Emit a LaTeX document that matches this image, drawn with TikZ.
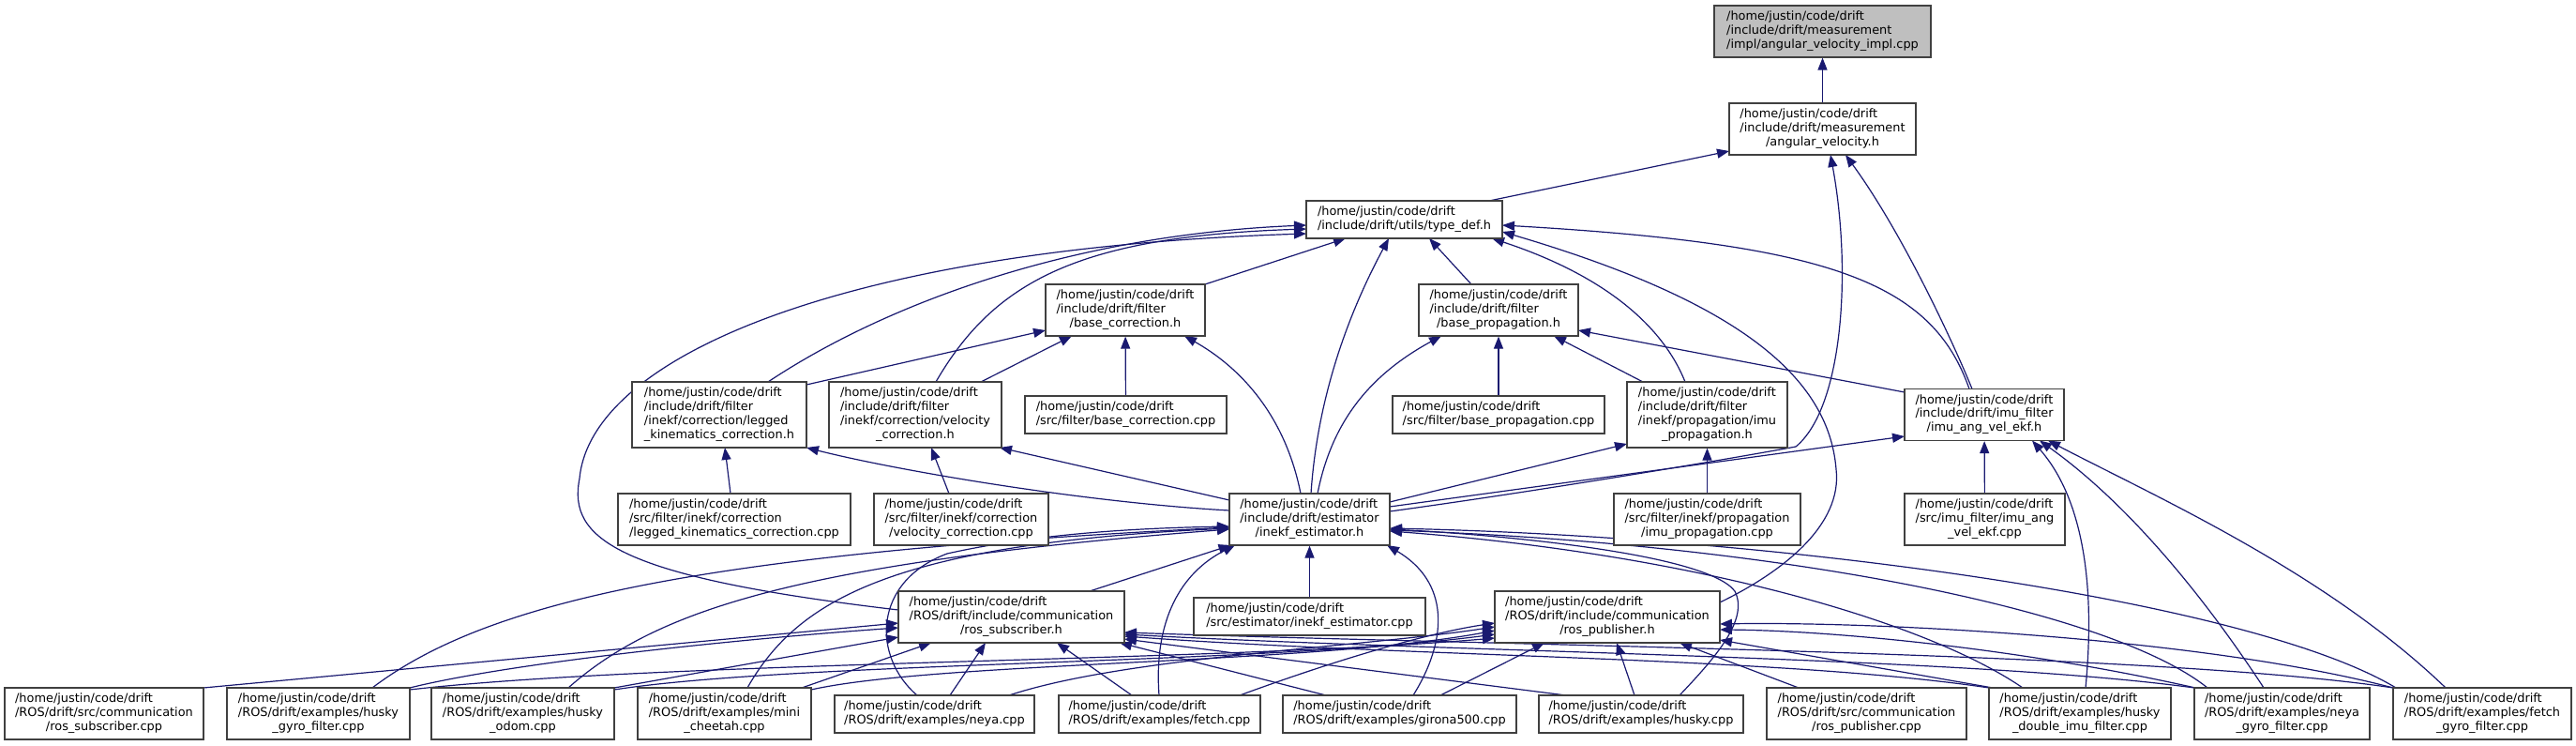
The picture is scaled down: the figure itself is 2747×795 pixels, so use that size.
\documentclass[tikz,border=0pt]{standalone}
\usepackage{fontspec}
\setmainfont{DejaVu Sans}
\usetikzlibrary{arrows.meta,calc}
\pgfdeclarelayer{bg}\pgfdeclarelayer{edges}\pgfsetlayers{bg,edges,main}
\definecolor{edgecol}{RGB}{25,25,112}
\definecolor{boxcol}{RGB}{64,64,64}
\definecolor{rootfill}{RGB}{191,191,191}
\newcommand\nfont{\fontsize{12.9}{14.8}\selectfont}
\newcommand\hd{/home/justin/code/drift}
\newcommand\labII[2]{\begin{tabular}{@{}l@{}}#1\\\multicolumn{1}{@{}c@{}}{#2}\end{tabular}}
\newcommand\labIII[3]{\begin{tabular}{@{}l@{}}#1\\#2\\\multicolumn{1}{@{}c@{}}{#3}\end{tabular}}
\newcommand\labIV[4]{\begin{tabular}{@{}l@{}}#1\\#2\\#3\\\multicolumn{1}{@{}c@{}}{#4}\end{tabular}}
\tikzset{
  box/.style={draw=boxcol, line width=1.2pt, fill=white, inner sep=0pt, font=\nfont},
  rootbox/.style={box, fill=rootfill},
  dep/.style={draw=edgecol, line width=1.2pt, -{Triangle[length=13pt,width=10pt]}}
}
\begin{document}
\begin{tikzpicture}[x=1pt,y=-1pt]
\useasboundingbox (0,0) rectangle (2747,795);
\begin{pgfonlayer}{bg}\fill[white] (0,0) rectangle (2747,795);\end{pgfonlayer}
% ---- nodes
\node[rootbox, minimum width=231pt, minimum height=55pt] (impl) at (1943.5,33.5) {\labIII{\hd}{/include/drift/measurement}{/impl/angular\_velocity\_impl.cpp}};
\node[box, minimum width=199pt, minimum height=55pt] (angvel) at (1943.5,137.5) {\labIII{\hd}{/include/drift/measurement}{/angular\_velocity.h}};
\node[box, minimum width=209pt, minimum height=40pt] (typedef) at (1497.5,234) {\labII{\hd}{/include/drift/utils/type\_def.h}};
\node[box, minimum width=170pt, minimum height=55pt] (basecorr_h) at (1200,330.5) {\labIII{\hd}{/include/drift/filter}{/base\_correction.h}};
\node[box, minimum width=170pt, minimum height=55pt] (baseprop_h) at (1598,330.5) {\labIII{\hd}{/include/drift/filter}{/base\_propagation.h}};
\node[box, minimum width=186pt, minimum height=70pt] (legged_h) at (767,442) {\labIV{\hd}{/include/drift/filter}{/inekf/correction/legged}{\_kinematics\_correction.h}};
\node[box, minimum width=184pt, minimum height=70pt] (velocity_h) at (976,442) {\labIV{\hd}{/include/drift/filter}{/inekf/correction/velocity}{\_correction.h}};
\node[box, minimum width=215pt, minimum height=40pt] (basecorr_cpp) at (1200.5,442) {\labII{\hd}{/src/filter/base\_correction.cpp}};
\node[box, minimum width=226pt, minimum height=40pt] (baseprop_cpp) at (1598,442) {\labII{\hd}{/src/filter/base\_propagation.cpp}};
\node[box, minimum width=171pt, minimum height=70pt] (imuprop_h) at (1820.5,442) {\labIV{\hd}{/include/drift/filter}{/inekf/propagation/imu}{\_propagation.h}};
\node[box, minimum width=170pt, minimum height=55pt] (imuekf_h) at (2116,442) {\labIII{\hd}{/include/drift/imu\_filter}{/imu\_ang\_vel\_ekf.h}};
\node[box, minimum width=248pt, minimum height=55pt] (legged_cpp) at (783,553.5) {\labIII{\hd}{/src/filter/inekf/correction}{/legged\_kinematics\_correction.cpp}};
\node[box, minimum width=186pt, minimum height=55pt] (velocity_cpp) at (1025,553.5) {\labIII{\hd}{/src/filter/inekf/correction}{/velocity\_correction.cpp}};
\node[box, minimum width=171pt, minimum height=55pt] (inekf_h) at (1396.5,553.5) {\labIII{\hd}{/include/drift/estimator}{/inekf\_estimator.h}};
\node[box, minimum width=199pt, minimum height=55pt] (imuprop_cpp) at (1820.5,553.5) {\labIII{\hd}{/src/filter/inekf/propagation}{/imu\_propagation.cpp}};
\node[box, minimum width=171pt, minimum height=55pt] (imuekf_cpp) at (2116.5,553.5) {\labIII{\hd}{/src/imu\_filter/imu\_ang}{\_vel\_ekf.cpp}};
\node[box, minimum width=241pt, minimum height=55pt] (rossub_h) at (1078.5,657.5) {\labIII{\hd}{/ROS/drift/include/communication}{/ros\_subscriber.h}};
\node[box, minimum width=247pt, minimum height=40pt] (inekf_cpp) at (1396.5,657) {\labII{\hd}{/src/estimator/inekf\_estimator.cpp}};
\node[box, minimum width=240pt, minimum height=55pt] (rospub_h) at (1714,657.5) {\labIII{\hd}{/ROS/drift/include/communication}{/ros\_publisher.h}};
\node[box, minimum width=212pt, minimum height=55pt] (rossub_cpp) at (111,760.5) {\labIII{\hd}{/ROS/drift/src/communication}{/ros\_subscriber.cpp}};
\node[box, minimum width=195pt, minimum height=55pt] (huskygyro) at (339.5,760.5) {\labIII{\hd}{/ROS/drift/examples/husky}{\_gyro\_filter.cpp}};
\node[box, minimum width=195pt, minimum height=55pt] (huskyodom) at (557.5,760.5) {\labIII{\hd}{/ROS/drift/examples/husky}{\_odom.cpp}};
\node[box, minimum width=185pt, minimum height=55pt] (minicheetah) at (772.5,760.5) {\labIII{\hd}{/ROS/drift/examples/mini}{\_cheetah.cpp}};
\node[box, minimum width=213pt, minimum height=40pt] (neya) at (996.5,761) {\labII{\hd}{/ROS/drift/examples/neya.cpp}};
\node[box, minimum width=215pt, minimum height=40pt] (fetch) at (1236.5,761) {\labII{\hd}{/ROS/drift/examples/fetch.cpp}};
\node[box, minimum width=249pt, minimum height=40pt] (girona) at (1492.5,761) {\labII{\hd}{/ROS/drift/examples/girona500.cpp}};
\node[box, minimum width=218pt, minimum height=40pt] (husky) at (1750,761) {\labII{\hd}{/ROS/drift/examples/husky.cpp}};
\node[box, minimum width=213pt, minimum height=55pt] (rospub_cpp) at (1990.5,760.5) {\labIII{\hd}{/ROS/drift/src/communication}{/ros\_publisher.cpp}};
\node[box, minimum width=194pt, minimum height=55pt] (huskydouble) at (2218,760.5) {\labIII{\hd}{/ROS/drift/examples/husky}{\_double\_imu\_filter.cpp}};
\node[box, minimum width=187pt, minimum height=55pt] (neyagyro) at (2433.5,760.5) {\labIII{\hd}{/ROS/drift/examples/neya}{\_gyro\_filter.cpp}};
\node[box, minimum width=190pt, minimum height=55pt] (fetchgyro) at (2647,760.5) {\labIII{\hd}{/ROS/drift/examples/fetch}{\_gyro\_filter.cpp}};
% ---- edges
\begin{pgfonlayer}{edges}
\draw[dep] (angvel) -- (impl);
\draw[dep] ($(typedef.center)+(90.5,-20)$) -- ($(angvel.center)+(-99.5,23.5)$);
\draw[dep] ($(inekf_h.center)+(85.5,-8.5)$) .. controls (1650,522) and (1850,488) .. (1915,476) .. controls (1965,435) and (1975,290) .. ($(angvel.center)+(8.5,27.5)$);
\draw[dep] ($(imuekf_h.center)+(-13,-27.5)$) .. controls (2085,370) and (2030,250) .. ($(angvel.center)+(24.5,27.5)$);
\draw[dep] ($(basecorr_h.center)+(85,-27.5)$) -- ($(typedef.center)+(-62.5,20)$);
\draw[dep] ($(legged_h.center)+(52,-35)$) .. controls (950,320) and (1150,250) .. ($(typedef.center)+(-104.5,6)$);
\draw[dep] ($(velocity_h.center)+(22,-35)$) .. controls (1060,300) and (1150,252) .. ($(typedef.center)+(-104.5,10)$);
\draw[dep] ($(rossub_h.center)+(-120.5,-7.5)$) .. controls (660,615) and (605,575) .. (618,510) .. controls (630,380) and (900,265) .. ($(typedef.center)+(-104.5,15)$);
\draw[dep] ($(inekf_h.center)+(1.5,-27.5)$) .. controls (1405,420) and (1440,330) .. ($(typedef.center)+(-16.5,20)$);
\draw[dep] ($(inekf_h.center)+(-9.5,-27.5)$) .. controls (1370,440) and (1320,390) .. ($(basecorr_h.center)+(63,27.5)$);
\draw[dep] ($(inekf_h.center)+(8.5,-27.5)$) .. controls (1420,450) and (1460,400) .. ($(baseprop_h.center)+(-61,27.5)$);
\draw[dep] ($(baseprop_h.center)+(-29,-27.5)$) -- ($(typedef.center)+(26.5,20)$);
\draw[dep] ($(imuprop_h.center)+(-23.5,-35)$) .. controls (1770,340) and (1700,290) .. ($(typedef.center)+(93.5,20)$);
\draw[dep] ($(rospub_h.center)+(120,-15.5)$) .. controls (1900,610) and (1965,560) .. (1958,500) .. controls (1950,400) and (1850,320) .. ($(typedef.center)+(104.5,13)$);
\draw[dep] ($(imuekf_h.center)+(-16,-27.5)$) .. controls (2060,300) and (1950,260) .. ($(typedef.center)+(104.5,6)$);
\draw[dep] ($(legged_h.center)+(93,-32)$) -- ($(basecorr_h.center)+(-85,21.5)$);
\draw[dep] ($(velocity_h.center)+(70,-35)$) -- ($(basecorr_h.center)+(-57,27.5)$);
\draw[dep] (basecorr_cpp) -- (basecorr_h);
\draw[dep] ($(legged_cpp.center)+(-4,-27.5)$) -- ($(legged_h.center)+(6,35)$);
\draw[dep] ($(velocity_cpp.center)+(-13,-27.5)$) -- ($(velocity_h.center)+(17,35)$);
\draw[dep] ($(inekf_h.center)+(-85.5,-9.5)$) .. controls (1150,535) and (950,500) .. ($(legged_h.center)+(93,35)$);
\draw[dep] ($(inekf_h.center)+(-85.5,-20.5)$) -- ($(velocity_h.center)+(90,35)$);
\draw[dep] (baseprop_cpp) -- (baseprop_h);
\draw[dep] ($(imuprop_h.center)+(-68.5,-35)$) -- ($(baseprop_h.center)+(59,27.5)$);
\draw[dep] ($(imuekf_h.center)+(-85,-24)$) -- ($(baseprop_h.center)+(85,21.5)$);
\draw[dep] ($(inekf_h.center)+(85.5,-18.5)$) -- ($(imuprop_h.center)+(-85.5,31)$);
\draw[dep] (imuprop_cpp) -- (imuprop_h);
\draw[dep] ($(inekf_h.center)+(85.5,-13.5)$) -- ($(imuekf_h.center)+(-85,23)$);
\draw[dep] (imuekf_cpp) -- (imuekf_h);
\draw[dep] (inekf_cpp) -- (inekf_h);
\draw[dep] ($(rossub_h.center)+(83.5,-27.5)$) -- ($(inekf_h.center)+(-84,27.5)$);
% bottom row
\draw[dep] ($(rossub_cpp.center)+(106,-27.5)$) -- ($(rossub_h.center)+(-120.5,6.5)$);
\draw[dep] ($(huskygyro.center)+(97.5,-27.5)$) .. controls (550,705) and (800,680) .. ($(rossub_h.center)+(-120.5,11.5)$);
\draw[dep] ($(huskygyro.center)+(57.5,-27.5)$) .. controls (520,640) and (750,590) .. ($(inekf_h.center)+(-85.5,8.5)$);
\draw[dep] ($(huskygyro.center)+(97.5,-25.5)$) .. controls (700,705) and (1300,705) .. ($(rospub_h.center)+(-120,22.5)$);
\draw[dep] ($(huskyodom.center)+(97.5,-27.5)$) -- ($(rossub_h.center)+(-120.5,21.5)$);
\draw[dep] ($(huskyodom.center)+(48.5,-27.5)$) .. controls (700,650) and (850,600) .. ($(inekf_h.center)+(-85.5,10.5)$);
\draw[dep] ($(huskyodom.center)+(97.5,-25.5)$) .. controls (850,705) and (1350,708) .. ($(rospub_h.center)+(-120,18.5)$);
\draw[dep] ($(minicheetah.center)+(82.5,-27.5)$) -- ($(rossub_h.center)+(-85.5,27.5)$);
\draw[dep] ($(minicheetah.center)+(24.5,-27.5)$) .. controls (850,640) and (950,580) .. ($(inekf_h.center)+(-85.5,9.5)$);
\draw[dep] ($(minicheetah.center)+(92.5,-25.5)$) .. controls (1000,705) and (1400,708) .. ($(rospub_h.center)+(-120,14.5)$);
\draw[dep] ($(neya.center)+(16.5,-20)$) -- ($(rossub_h.center)+(-27.5,27.5)$);
\draw[dep] ($(neya.center)+(-18.5,-20)$) .. controls (930,700) and (930,620) .. (1010,590) .. controls (1100,570) and (1200,563) .. ($(inekf_h.center)+(-85.5,7.5)$);
\draw[dep] ($(neya.center)+(79.5,-20)$) .. controls (1200,700) and (1450,690) .. ($(rospub_h.center)+(-120,10.5)$);
\draw[dep] ($(fetch.center)+(-29.5,-20)$) -- ($(rossub_h.center)+(48.5,27.5)$);
\draw[dep] ($(fetch.center)+(-0.5,-20)$) .. controls (1230,660) and (1260,610) .. ($(inekf_h.center)+(-79.5,27.5)$);
\draw[dep] ($(fetch.center)+(85.5,-20)$) .. controls (1420,705) and (1520,675) .. ($(rospub_h.center)+(-120,6.5)$);
\draw[dep] ($(girona.center)+(-78.5,-20)$) -- ($(rossub_h.center)+(115.5,27.5)$);
\draw[dep] ($(girona.center)+(14.5,-20)$) .. controls (1545,680) and (1545,620) .. ($(inekf_h.center)+(82.5,27.5)$);
\draw[dep] ($(girona.center)+(43.5,-20)$) -- ($(rospub_h.center)+(-67,27.5)$);
\draw[dep] ($(husky.center)+(-80,-20)$) -- ($(rossub_h.center)+(120.5,23.5)$);
\draw[dep] ($(husky.center)+(-7,-20)$) -- ($(rospub_h.center)+(10,27.5)$);
\draw[dep] ($(husky.center)+(41,-20)$) .. controls (1830,700) and (1865,660) .. (1850,630) .. controls (1820,590) and (1600,570) .. ($(inekf_h.center)+(85.5,10.5)$);
\draw[dep] ($(rospub_cpp.center)+(-72.5,-27.5)$) -- ($(rospub_h.center)+(77,27.5)$);
\draw[dep] ($(huskydouble.center)+(-93,-27.5)$) -- ($(rospub_h.center)+(120,24.5)$);
\draw[dep] ($(huskydouble.center)+(-97,-27.5)$) .. controls (1900,700) and (1500,700) .. ($(rossub_h.center)+(120.5,20.5)$);
\draw[dep] ($(huskydouble.center)+(-61,-27.5)$) .. controls (2050,660) and (1800,590) .. ($(inekf_h.center)+(85.5,12.5)$);
\draw[dep] ($(huskydouble.center)+(6,-27.5)$) .. controls (2235,620) and (2220,530) .. ($(imuekf_h.center)+(51,27.5)$);
\draw[dep] ($(neyagyro.center)+(-92.5,-27.5)$) .. controls (2150,690) and (1950,672) .. ($(rospub_h.center)+(120,13.5)$);
\draw[dep] ($(neyagyro.center)+(-93.5,-27.5)$) .. controls (2100,700) and (1550,695) .. ($(rossub_h.center)+(120.5,18.5)$);
\draw[dep] ($(neyagyro.center)+(-79.5,-27.5)$) .. controls (2250,650) and (1900,580) .. ($(inekf_h.center)+(85.5,11.5)$);
\draw[dep] ($(neyagyro.center)+(-19.5,-27.5)$) .. controls (2340,620) and (2260,530) .. ($(imuekf_h.center)+(59,27.5)$);
\draw[dep] ($(fetchgyro.center)+(-95,-27.5)$) .. controls (2350,680) and (2000,662) .. ($(rospub_h.center)+(120,7.5)$);
\draw[dep] ($(fetchgyro.center)+(-95,-27.5)$) .. controls (2300,695) and (1600,688) .. ($(rossub_h.center)+(120.5,16.5)$);
\draw[dep] ($(fetchgyro.center)+(-92,-27.5)$) .. controls (2400,640) and (1900,572) .. ($(inekf_h.center)+(85.5,9.5)$);
\draw[dep] ($(fetchgyro.center)+(-39,-27.5)$) .. controls (2480,610) and (2300,530) .. ($(imuekf_h.center)+(68,27.5)$);
\end{pgfonlayer}
\end{tikzpicture}
\end{document}
